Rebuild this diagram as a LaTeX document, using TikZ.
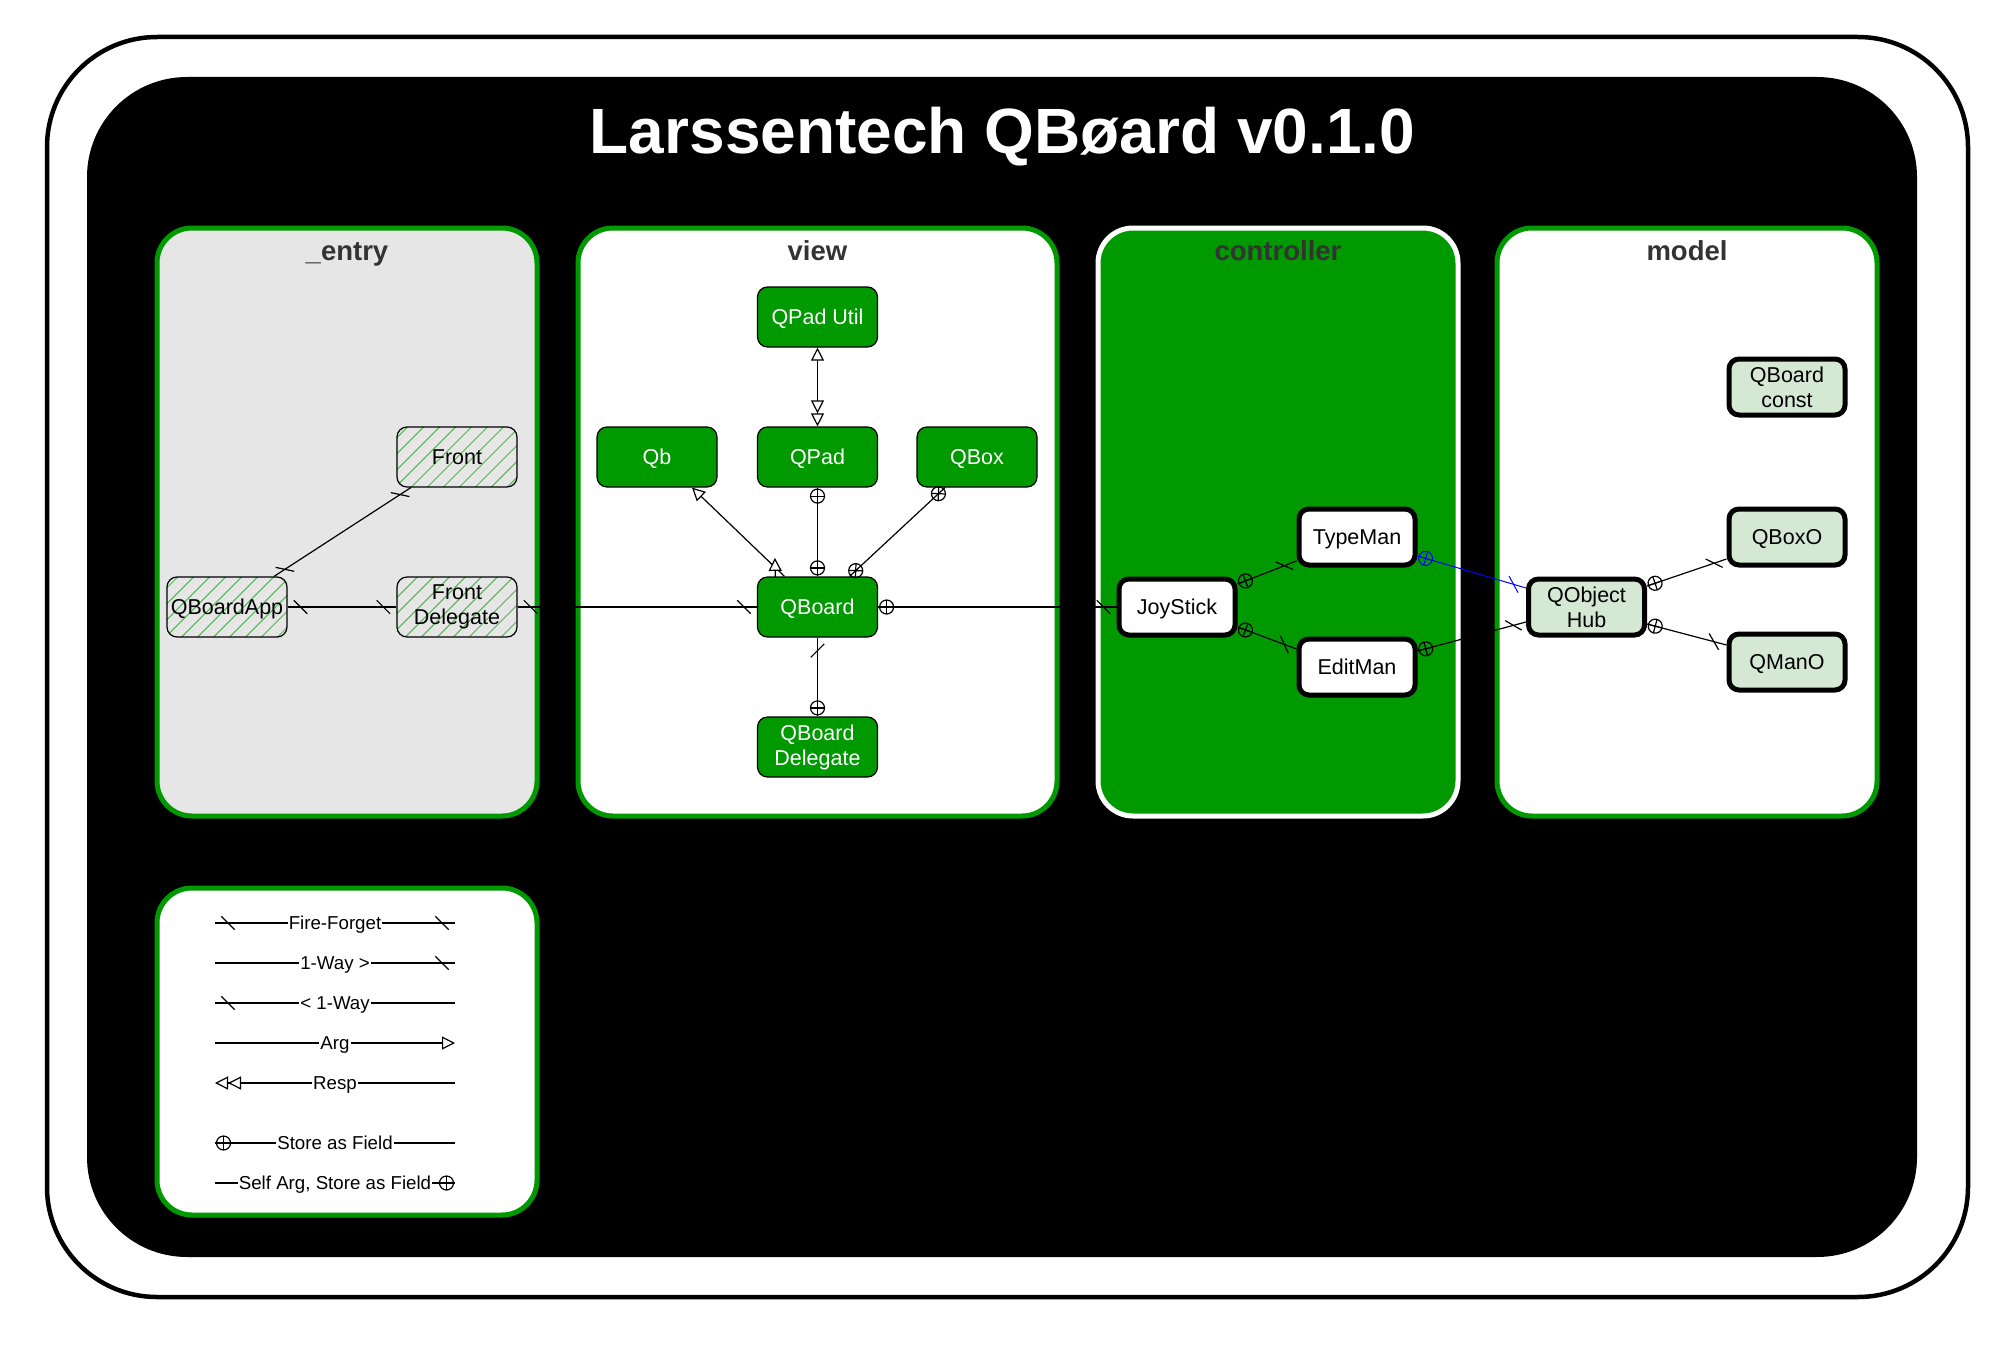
\documentclass[tikz,border=0pt]{standalone}
\usepackage{fontspec}
\setmainfont{Liberation Sans}
\usetikzlibrary{arrows.meta,decorations.markings,patterns.meta,calc}
\definecolor{gr}{HTML}{009900}
\definecolor{hatch}{HTML}{55B555}
\definecolor{lgray}{HTML}{E6E6E6}
\definecolor{lgreen}{HTML}{D5E8D4}
\definecolor{ttl}{HTML}{333333}
\newcommand\qbTitleFont{\fontsize{64pt}{70pt}\selectfont\bfseries}
\newcommand\qbPanelFont{\fontsize{27.5pt}{30pt}\selectfont\bfseries}
\newcommand\qbNodeFont{\fontsize{21.5pt}{25pt}\selectfont}
\newcommand\qbLegFont{\fontsize{18.7pt}{21pt}\selectfont}
\tikzset{
 conn/.style={line width=1.2pt},
 tkS/.style={postaction={decorate,decoration={markings,mark=at position 13pt with {\draw (135:9.5pt)--(-45:9.5pt);}}}},
 tkE/.style={postaction={decorate,decoration={markings,mark=at position -13pt with {\draw (135:9.5pt)--(-45:9.5pt);}}}},
 cpS/.style={postaction={decorate,decoration={markings,mark=at position 8.5pt with {\draw (0,0) circle (7pt); \draw (-7pt,0)--(7pt,0) (0,-7pt)--(0,7pt);}}}},
 cpE/.style={postaction={decorate,decoration={markings,mark=at position -8.5pt with {\draw (0,0) circle (7pt); \draw (-7pt,0)--(7pt,0) (0,-7pt)--(0,7pt);}}}},
 cxS/.style={postaction={decorate,decoration={markings,mark=at position 8.5pt with {\draw (0,0) circle (7pt); \draw (45:7pt)--(-135:7pt) (135:7pt)--(-45:7pt);}}}},
 cxE/.style={postaction={decorate,decoration={markings,mark=at position -8.5pt with {\draw (0,0) circle (7pt); \draw (45:7pt)--(-135:7pt) (135:7pt)--(-45:7pt);}}}},
 lbl/.style={fill=white, inner xsep=1pt, inner ysep=0pt, font=\qbLegFont, text=black, text height=13.4pt, text depth=0pt},
 basenode/.style={rounded corners=10pt, minimum width=120pt, minimum height=60pt, inner sep=0pt, align=center, font=\qbNodeFont},
 oneline/.style={text height=15.5pt, text depth=0pt},
 entrynode/.style={basenode, draw=black, line width=1.2pt, pattern={Lines[angle=45,distance=11.3pt,line width=1pt]}, pattern color=hatch},
 viewnode/.style={basenode, draw=black, line width=1.2pt, fill=gr, text=white},
 thicknode/.style={basenode, draw=black, line width=5pt, minimum width=116pt, minimum height=56pt},
 ctrlnode/.style={thicknode, fill=white},
 modelnode/.style={thicknode, fill=lgreen},
 panel/.style={line width=5pt, draw=gr, rounded corners=35pt},
 ptitle/.style={font=\qbPanelFont, text=ttl, anchor=base},
}
\begin{document}
\begin{tikzpicture}[x=1pt,y=-1pt]
\useasboundingbox (0,0) rectangle (2006,1346);
\fill[white] (0,0) rectangle (2006,1346);
\draw[line width=4.5pt, fill=white, rounded corners=110pt] (47,37) rectangle (1968,1297);
\fill[black, rounded corners=100pt] (87,77) rectangle (1917,1257);
\node[font=\qbTitleFont, text=white, anchor=base] (title) at (1002.5,153) {Larssentech QBøard v0.1.0};

% panels
\draw[panel, fill=lgray] (157,228) rectangle (537,816);
\node[ptitle] (tentry) at (347,260) {\_entry};
\draw[panel, fill=white] (578,228) rectangle (1057,816);
\node[ptitle] (tview) at (817.5,260) {view};
\draw[panel, draw=white, fill=gr] (1098,228) rectangle (1458,816);
\node[ptitle] (tctrl) at (1278,260) {controller};
\draw[panel, fill=white] (1497,228) rectangle (1877,816);
\node[ptitle] (tmodel) at (1687,260) {model};
\draw[panel, fill=white] (157,888) rectangle (537,1215);

% entry nodes
\node[entrynode, oneline] (front) at (457,457) {Front};
\node[entrynode, oneline] (qbapp) at (227,607) {QBoardApp};
\node[entrynode] (fdel) at (457,607) {Front\\Delegate};
% view nodes
\node[viewnode, oneline] (qpadutil) at (817.5,317) {QPad Util};
\node[viewnode, oneline] (qb) at (657,457) {Qb};
\node[viewnode, oneline] (qpad) at (817.5,457) {QPad};
\node[viewnode, oneline] (qbox) at (977,457) {QBox};
\node[viewnode, oneline] (qboard) at (817.5,607) {QBoard};
\node[viewnode] (qbdel) at (817.5,747) {QBoard\\Delegate};
% controller nodes
\node[ctrlnode, oneline] (joy) at (1177,607) {JoyStick};
\node[ctrlnode, oneline] (typeman) at (1357,537) {TypeMan};
\node[ctrlnode, oneline] (editman) at (1357,667) {EditMan};
% model nodes
\node[modelnode] (qbconst) at (1787,387) {QBoard\\const};
\node[modelnode, oneline] (qboxo) at (1787,537) {QBoxO};
\node[modelnode, oneline] (qmano) at (1787,662) {QManO};
\node[modelnode] (qoh) at (1586.5,607) {QObject\\Hub};

% connectors
\draw[conn,tkS,tkE] ($(qbapp.north)+(47,0)$) -- ($(front.south)+(-46,0)$);
\draw[conn,tkS,tkE] (qbapp.east) -- (fdel.west);
\draw[conn,tkS,tkE] (fdel.east) -- (qboard.west);
\draw[conn,{Triangle[length=13pt,width=13pt,fill=white]}-{Triangle[length=13pt,width=13pt,fill=white]Triangle[length=13pt,width=13pt,fill=white]}] (qpadutil.south) -- (qpad.north);
\draw[conn,tkS,-{Triangle[length=13pt,width=13pt,fill=white]}] ($(qboard.north)+(-33,0)$) -- ($(qb.south)+(35,0)$);
\draw[conn,cpS,cpE] (qpad.south) -- (qboard.north);
\draw[conn,cxS,cxE] ($(qboard.north)+(32,0)$) -- ($(qbox.south)+(-32,0)$);
\draw[conn,tkS,cpE] (qboard.south) -- (qbdel.north);
\draw[conn,cpS,tkE] (qboard.east) -- (joy.west);
\draw[conn,cpS,tkE] ($(joy.east)+(0,-23)$) -- ($(typeman.west)+(0,24)$);
\draw[conn,cpS,tkE] ($(joy.east)+(0,20)$) -- ($(editman.west)+(0,-18)$);
\draw[conn,color=blue,line width=1pt,cpS,tkE] ($(typeman.east)+(0,19)$) -- ($(qoh.west)+(0,-19)$);
\draw[conn,cpS,tkE] ($(editman.east)+(0,-16)$) -- ($(qoh.west)+(0,15)$);
\draw[conn,cpS,tkE] ($(qoh.east)+(0,-21)$) -- ($(qboxo.west)+(0,22)$);
\draw[conn,cpS,tkE] ($(qoh.east)+(0,17)$) -- ($(qmano.west)+(0,-17)$);

% legend
\coordinate (la1) at (215,923);  \coordinate (lb1) at (455,923);
\coordinate (la2) at (215,963);  \coordinate (lb2) at (455,963);
\coordinate (la3) at (215,1003); \coordinate (lb3) at (455,1003);
\coordinate (la4) at (215,1043); \coordinate (lb4) at (455,1043);
\coordinate (la5) at (215,1083); \coordinate (lb5) at (455,1083);
\coordinate (la6) at (215,1143); \coordinate (lb6) at (455,1143);
\coordinate (la7) at (215,1183); \coordinate (lb7) at (455,1183);
\draw[conn,tkS,tkE] (la1) -- node[lbl] (t1) {Fire-Forget} (lb1);
\draw[conn,tkE] (la2) -- node[lbl] (t2) {1-Way >} (lb2);
\draw[conn,tkS] (la3) -- node[lbl] (t3) {< 1-Way} (lb3);
\draw[conn,-{Triangle[length=13pt,width=13pt,fill=white]}] (la4) -- node[lbl] (t4) {Arg} (lb4);
\draw[conn,{Triangle[length=13pt,width=13pt,fill=white]Triangle[length=13pt,width=13pt,fill=white]}-] (la5) -- node[lbl] (t5) {Resp} (lb5);
\draw[conn,cpS] (la6) -- node[lbl] (t6) {Store as Field} (lb6);
\draw[conn,cpE] (la7) -- node[lbl] (t7) {Self Arg, Store as Field} (lb7);
\end{tikzpicture}
\end{document}
